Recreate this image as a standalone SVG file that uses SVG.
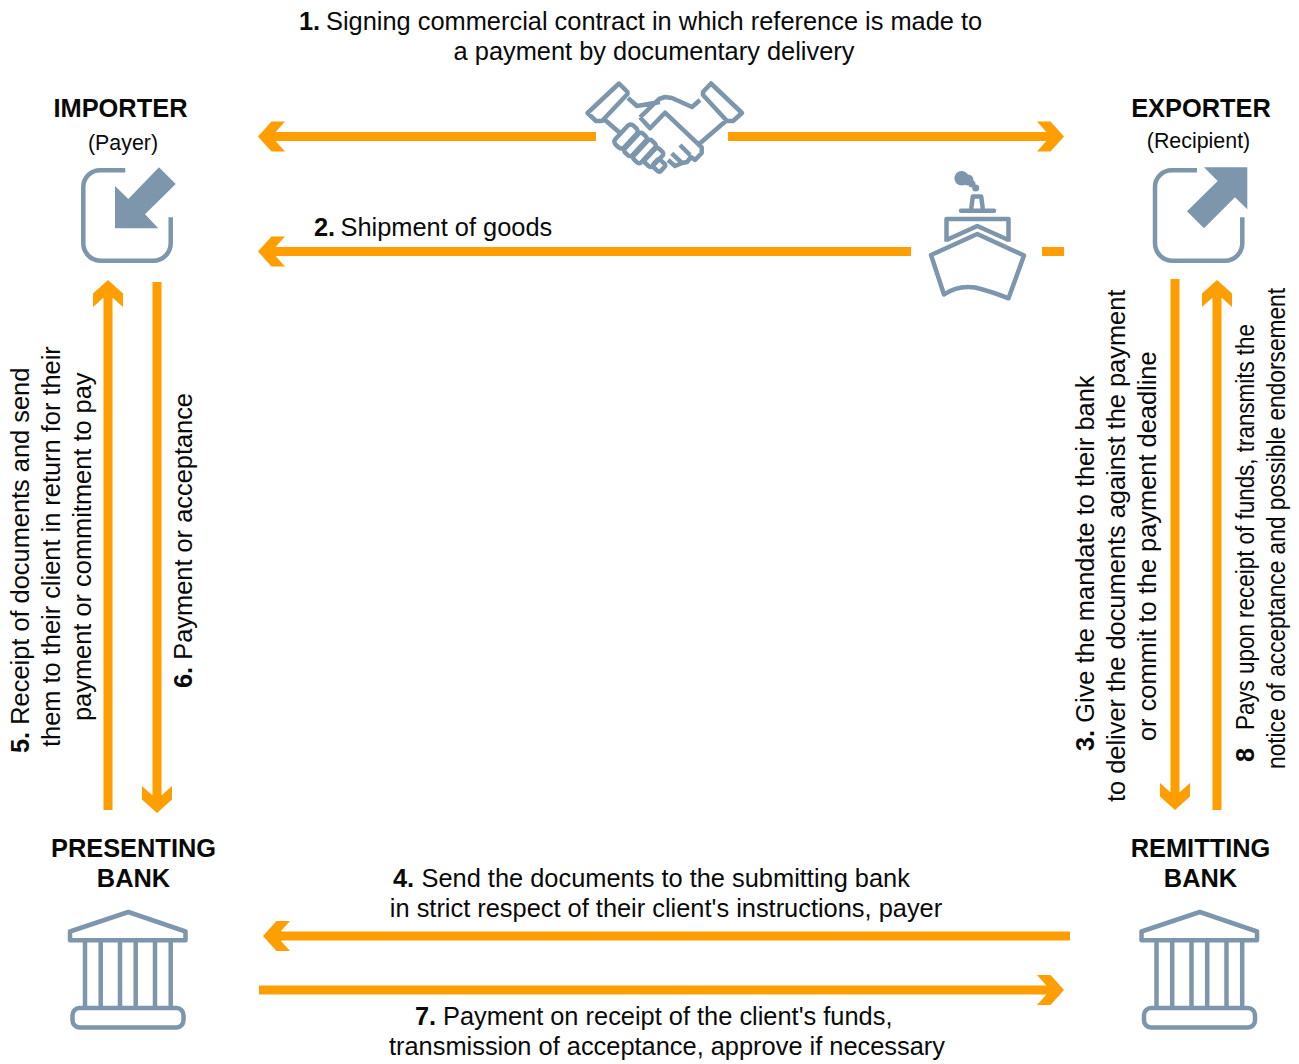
<svg xmlns="http://www.w3.org/2000/svg" width="1299" height="1064" viewBox="0 0 1299 1064">
<style>
text{font-family:"Liberation Sans",Arial,sans-serif;font-size:25.4px;fill:#0a0a0a}
.b{font-weight:700}
.h{font-weight:700;text-anchor:middle}
.m{text-anchor:middle}
.s{font-size:21.4px;text-anchor:middle}
.sh{stroke:#ff9e00;stroke-width:9;fill:none}
.hd{fill:#ff9e00}
.ic{fill:none;stroke:#7d96ab;stroke-width:4.5;stroke-linejoin:round}
.fl{fill:#7d96ab}
</style>
<defs>
<polygon id="head" points="0,0 -13.500,-15 -27,-15 -18,-5 -18,5 -27,15 -13.500,15"/>
<g id="bankicon">
<path class="ic" d="M128.300 912L185.500 931.500V940.300H70V931.500Z"/>
<path class="ic" d="M85 940V1008M100.700 940V1008M120 940V1008M135.700 940V1008M155 940V1008M170.700 940V1008"/>
<rect class="ic" x="72.500" y="1008" width="111" height="19.500" rx="7"/>
</g>
</defs>
<g id="connectors">
<path class="sh" d="M270 136.500H596M728 136.500H1052M270 251.500H911M1042 251.500H1064M108 292V810M157 282V801M1175 279V798M1217 292V810M275 936H1070M259 990H1052"/>
<use href="#head" class="hd" transform="translate(258,136.500) rotate(180)"/>
<use href="#head" class="hd" transform="translate(1064,136.500)"/>
<use href="#head" class="hd" transform="translate(258,251.500) rotate(180)"/>
<use href="#head" class="hd" transform="translate(108,280) rotate(-90)"/>
<use href="#head" class="hd" transform="translate(157,813) rotate(90)"/>
<use href="#head" class="hd" transform="translate(1175,810) rotate(90)"/>
<use href="#head" class="hd" transform="translate(1217,280) rotate(-90)"/>
<use href="#head" class="hd" transform="translate(263,936) rotate(180)"/>
<use href="#head" class="hd" transform="translate(1064,990)"/>
</g>
<g id="importer">
<text class="h" x="120.500" y="117">IMPORTER</text>
<text class="s" x="123" y="150">(Payer)</text>
<path class="ic" d="M125.300 170.300H100A16.700 16.700 0 0 0 83.300 187V243.300A17.400 17.400 0 0 0 100 260.700H153.300A17.400 17.400 0 0 0 170.700 243.300V217.300"/>
<polygon class="fl" points="159,167.300 175.700,184 145,214.300 158.300,228.300 115,228.300 115,186 128.300,199"/>
</g>
<g id="exporter">
<text class="h" x="1201" y="117">EXPORTER</text>
<text class="s" x="1198.500" y="148">(Recipient)</text>
<path class="ic" d="M1197 170.300H1171.700A16.700 16.700 0 0 0 1155 187V243.300A17.400 17.400 0 0 0 1171.700 260.700H1225A17.400 17.400 0 0 0 1242.300 243.300V217.300"/>
<polygon class="fl" points="1204,167.300 1247.300,167.300 1247.300,209.300 1235,197.300 1204,228.300 1187,211.300 1217.700,181"/>
</g>
<g id="presenting-bank">
<text class="h" x="133.500" y="857">PRESENTING</text>
<text class="h" x="133.500" y="887">BANK</text>
<use href="#bankicon"/>
</g>
<g id="remitting-bank">
<text class="h" x="1200.500" y="857">REMITTING</text>
<text class="h" x="1200.500" y="887">BANK</text>
<use href="#bankicon" x="1071.500"/>
</g>
<g id="handshake">
<path class="ic" d="M619 83.500L627.500 92V94L602 121H596L587.500 113ZM711 83.500L742 113L733 121H727L703 95V92ZM628 98L637 106L660 102M640 117.300L659 99L665 97L672 98L692 107L700 100M640 117.300L650 128.300L665 112.700L701.700 147.300V153L695 160L691 157L687 162L682 163L675 166L668 160M698 145L727 120M605 120L620 133M671.700 153.300L681.700 162.700M680 145L690 155"/>
<rect class="ic" x="-13" y="-6" width="26" height="12" rx="4" transform="translate(626,136.500) rotate(-47)"/>
<rect class="ic" x="-13" y="-5" width="26" height="10" rx="3" transform="translate(635.500,144.500) rotate(-47)"/>
<rect class="ic" x="-13" y="-5" width="26" height="10" rx="3" transform="translate(644.500,151.500) rotate(-47)"/>
<rect class="ic" x="-10" y="-5" width="20" height="10" rx="3" transform="translate(654,157.500) rotate(-47)"/>
<rect class="ic" x="-5" y="-5" width="10" height="10" rx="2" transform="translate(659,165.500) rotate(-47)"/>
</g>
<g id="ship">
<path class="ic" d="M931 255L977.300 234L1024 255.500L1008.500 298.300Q990 291 975 287.500Q958 285 944 294.500Z"/>
<path class="ic" d="M946.500 241.700V219H1008.500V241.700M946.500 240L977.300 226L1008.500 240"/>
<path class="ic" d="M971.200 209L972.800 196.500H981.200L982.800 209"/>
<path class="ic" stroke-width="5" stroke-linecap="round" d="M961 210.700H994"/>
<circle class="fl" cx="961.700" cy="178.300" r="7.300"/><circle class="fl" cx="968" cy="180" r="5.500"/><circle class="fl" cx="972" cy="184" r="3.500"/><circle class="fl" cx="975.700" cy="188" r="3.500"/>
</g>
<g id="labels">
<text x="299" y="30"><tspan class="b">1.</tspan><tspan x="326">Signing commercial contract in which reference is made to</tspan></text>
<text class="m" x="654" y="60">a payment by documentary delivery</text>
<text x="314" y="236"><tspan class="b">2.</tspan><tspan x="340.500">Shipment of goods</tspan></text>
<text x="393" y="887"><tspan class="b">4.</tspan><tspan x="421.500">Send the documents to the submitting bank</tspan></text>
<text class="m" x="666" y="917">in strict respect of their client's instructions, payer</text>
<text x="415" y="1025"><tspan class="b">7.</tspan><tspan x="443">Payment on receipt of the client's funds,</tspan></text>
<text class="m" x="667" y="1055">transmission of acceptance, approve if necessary</text>
<text transform="translate(29,753) rotate(-90)"><tspan class="b">5.</tspan> Receipt of documents and send</text>
<text transform="translate(60,747) rotate(-90)">them to their client in return for their</text>
<text transform="translate(91,721) rotate(-90)">payment or commitment to pay</text>
<text transform="translate(192,688) rotate(-90)"><tspan class="b">6.</tspan> Payment or acceptance</text>
<text transform="translate(1094,751) rotate(-90)"><tspan class="b">3.</tspan> Give the mandate to their bank</text>
<text transform="translate(1125,802) rotate(-90)">to deliver the documents against the payment</text>
<text transform="translate(1156,741) rotate(-90)">or commit to the payment deadline</text>
<text class="b" transform="translate(1254,762) rotate(-90)">8</text>
<text transform="translate(1254,730) rotate(-90)" textLength="406" lengthAdjust="spacingAndGlyphs">Pays upon receipt of funds, transmits the</text>
<text transform="translate(1285,769) rotate(-90)" textLength="481" lengthAdjust="spacingAndGlyphs">notice of acceptance and possible endorsement</text>
</g>
</svg>
